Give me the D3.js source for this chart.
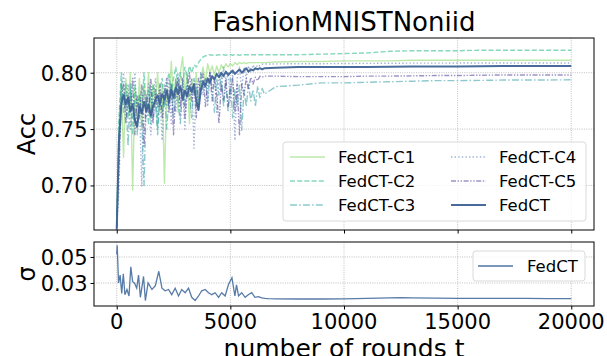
<!DOCTYPE html>
<html>
<head>
<meta charset="utf-8">
<script src="https://cdn.jsdelivr.net/npm/d3@7"></script>
<style>
body { margin: 0; background: #fff; }
text { font-family: "DejaVu Sans", sans-serif; fill: #000; }
</style>
</head>
<body>
<script>
// x positions (rounds) shared by the accuracy curves
let rounds = [0,100,200,300,400,500,600,700,800,900,1000,1100,1200,1300,1400,1500,1600,1700,1800,1900,
  2000,2100,2200,2300,2400,2500,2600,2700,2800,2900,3000,3100,3200,3300,3400,3500,3600,3700,3800,3900,
  4000,4100,4200,4300,4400,4500,4600,4700,4800,4900,5000,5100,5200,5300,5400,5500,5600,5700,5800,5900,
  6000,6100,6200,6300,6400,6500,7000,8000,9000,10000,11000,12000,13000,14000,15000,16000,17000,18000,19000,20000]

let c1 = [0.67,0.74,0.79,0.725,0.795,0.77,0.80,0.696,0.785,0.76,0.795,0.75,0.79,0.765,0.80,0.76,0.79,0.77,0.80,0.765,
  0.79,0.702,0.785,0.77,0.81,0.775,0.795,0.765,0.80,0.814,0.78,0.80,0.755,0.795,0.78,0.80,0.77,0.795,0.805,0.79,
  0.808,0.80,0.806,0.798,0.806,0.80,0.807,0.803,0.808,0.805,0.808,0.806,0.809,0.807,0.809,0.808,0.809,0.808,0.809,0.809,
  0.809,0.809,0.809,0.809,0.809,0.809,0.8095,0.810,0.810,0.8105,0.8105,0.8105,0.811,0.811,0.811,0.811,0.811,0.811,0.811,0.811]

let c2 = [0.665,0.76,0.80,0.77,0.79,0.76,0.785,0.745,0.79,0.77,0.78,0.765,0.80,0.77,0.785,0.755,0.79,0.78,0.75,0.785,
  0.795,0.77,0.79,0.80,0.78,0.795,0.805,0.785,0.80,0.79,0.805,0.795,0.806,0.80,0.807,0.805,0.809,0.812,0.814,0.815,
  0.815,0.816,0.8155,0.816,0.8155,0.816,0.8155,0.816,0.8155,0.816,0.816,0.8155,0.816,0.816,0.8155,0.816,0.816,0.816,0.816,0.816,
  0.816,0.816,0.816,0.816,0.816,0.816,0.816,0.816,0.8165,0.817,0.8175,0.819,0.8195,0.8195,0.8195,0.820,0.820,0.820,0.820,0.820]

let c3 = [0.662,0.75,0.79,0.765,0.78,0.735,0.79,0.76,0.775,0.745,0.78,0.76,0.70,0.775,0.755,0.785,0.76,0.775,0.745,0.78,
  0.765,0.785,0.75,0.78,0.79,0.76,0.795,0.775,0.755,0.79,0.77,0.795,0.78,0.76,0.795,0.785,0.77,0.80,0.785,0.795,
  0.775,0.80,0.785,0.765,0.795,0.78,0.80,0.77,0.79,0.765,0.795,0.76,0.785,0.77,0.79,0.749,0.785,0.77,0.79,0.775,
  0.785,0.77,0.788,0.778,0.786,0.781,0.7876,0.789,0.791,0.791,0.7915,0.792,0.7925,0.793,0.793,0.7932,0.7935,0.7935,0.7935,0.7938]

let c4 = [0.664,0.696,0.785,0.80,0.765,0.79,0.75,0.78,0.80,0.755,0.775,0.699,0.785,0.76,0.79,0.745,0.775,0.795,0.76,0.78,
  0.74,0.79,0.77,0.795,0.755,0.785,0.765,0.80,0.76,0.785,0.75,0.79,0.775,0.795,0.733,0.79,0.775,0.80,0.78,0.795,
  0.77,0.80,0.785,0.795,0.765,0.80,0.785,0.805,0.79,0.80,0.775,0.80,0.74,0.795,0.805,0.785,0.805,0.795,0.806,0.80,
  0.807,0.803,0.807,0.806,0.8075,0.8077,0.8078,0.808,0.808,0.8082,0.8083,0.8084,0.8085,0.8085,0.8086,0.8086,0.8086,0.8086,0.8086,0.8086]

let c5 = [0.663,0.72,0.775,0.79,0.755,0.78,0.765,0.795,0.745,0.78,0.76,0.79,0.735,0.78,0.765,0.795,0.755,0.785,0.77,0.79,
  0.76,0.78,0.795,0.765,0.79,0.745,0.785,0.795,0.77,0.795,0.76,0.785,0.80,0.775,0.79,0.76,0.795,0.78,0.80,0.77,
  0.79,0.80,0.775,0.795,0.78,0.755,0.79,0.775,0.795,0.77,0.785,0.795,0.765,0.79,0.745,0.79,0.78,0.795,0.785,0.796,
  0.79,0.796,0.793,0.797,0.796,0.797,0.797,0.7965,0.7965,0.7965,0.797,0.797,0.7972,0.7975,0.7975,0.7978,0.798,0.798,0.798,0.798]

let fedct = [0.661,0.740,0.772,0.780,0.772,0.778,0.766,0.772,0.758,0.752,0.770,0.764,0.774,0.766,0.772,0.762,0.770,0.776,0.780,0.772,
  0.781,0.776,0.784,0.774,0.785,0.778,0.787,0.781,0.788,0.776,0.784,0.779,0.788,0.783,0.790,0.775,0.767,0.785,0.792,0.788,
  0.795,0.791,0.797,0.794,0.799,0.796,0.800,0.797,0.801,0.798,0.800,0.802,0.799,0.801,0.803,0.800,0.802,0.804,0.801,0.803,
  0.802,0.804,0.803,0.804,0.803,0.804,0.8045,0.805,0.805,0.805,0.805,0.8052,0.8055,0.8055,0.8055,0.8057,0.806,0.806,0.806,0.806]

// sigma curve has its own sampling
let sigRounds = [0,20,80,150,220,290,360,450,540,620,700,780,880,960,1040,1180,1260,1380,1550,1700,1850,1990,2130,
  2280,2420,2570,2720,2860,3010,3160,3300,3450,3600,3740,3890,4040,4180,4330,4480,4620,4770,4920,5070,5200,5270,
  5360,5500,5650,5790,5940,6080,6230,6380,6520,6670,7000,8000,9000,10000,11000,12000,12500,13000,14000,15000,16000,17000,18000,19000,20000]
let sigma = [0.052,0.059,0.030,0.036,0.022,0.037,0.021,0.025,0.020,0.0425,0.031,0.030,0.026,0.036,0.019,0.035,0.0165,0.030,
  0.025,0.028,0.039,0.026,0.024,0.025,0.021,0.026,0.020,0.025,0.0225,0.026,0.019,0.0165,0.020,0.024,0.025,0.0225,
  0.021,0.0225,0.019,0.0225,0.020,0.029,0.034,0.020,0.0285,0.020,0.0225,0.019,0.021,0.0225,0.019,0.0195,0.0185,
  0.0182,0.018,0.0178,0.0177,0.0177,0.0178,0.0182,0.0186,0.0188,0.0186,0.0184,0.0182,0.0182,0.0181,0.0181,0.018,0.018]

let xTicks = [0,5000,10000,15000,20000]
let accTicks = [0.70,0.75,0.80]
let sigTicks = [0.03,0.05]

let series = [
  {name:"FedCT-C1", values:c1, color:"#7bd35a", dash:null, width:1.4, op:0.5},
  {name:"FedCT-C2", values:c2, color:"#22b884", dash:"5,2.2", width:1.4, op:0.55},
  {name:"FedCT-C3", values:c3, color:"#2f9ca3", dash:"7,2.2,1.5,2.2", width:1.4, op:0.55},
  {name:"FedCT-C4", values:c4, color:"#4f73b5", dash:"1.4,2.2", width:1.4, op:0.55},
  {name:"FedCT-C5", values:c5, color:"#4a3a93", dash:"5,1.6,1.4,1.6,1.4,1.6", width:1.4, op:0.55},
  {name:"FedCT", values:fedct, color:"#3e6396", dash:null, width:2, op:0.95},
]

let W = 607, H = 356
let left = 94, right = 594
let top1 = 38, bot1 = 230, top2 = 242, bot2 = 306

let svg = d3.select("body").append("svg").attr("width", W).attr("height", H)

let x = d3.scaleLinear().domain([-1000, 21000]).range([left, right])
let y1 = d3.scaleLinear().domain([0.6605, 0.8308]).range([bot1, top1])
let y2 = d3.scaleLinear().domain([0.0123, 0.0615]).range([bot2, top2])

function panel(y, yt, yfmt, t, b, id){
  let g = svg.append("g")
  g.append("clipPath").attr("id", id).append("rect")
    .attr("x", left).attr("y", t).attr("width", right-left).attr("height", b-t)
  // grid
  g.selectAll(".gx").data(xTicks).join("line")
    .attr("x1", d=>x(d)).attr("x2", d=>x(d)).attr("y1", t).attr("y2", b)
    .attr("stroke", "#b0b0b0").attr("stroke-width", 0.8).attr("stroke-dasharray", "1,1.3")
  g.selectAll(".gy").data(yt).join("line")
    .attr("x1", left).attr("x2", right).attr("y1", d=>y(d)).attr("y2", d=>y(d))
    .attr("stroke", "#b0b0b0").attr("stroke-width", 0.8).attr("stroke-dasharray", "1,1.3")
  let xa = g.append("g").attr("transform", `translate(0,${b})`)
    .call(d3.axisBottom(x).tickValues(xTicks).tickSize(3.5).tickFormat(""))
  xa.select(".domain").remove()
  let ya = g.append("g").attr("transform", `translate(${left},0)`)
    .call(d3.axisLeft(y).tickValues(yt).tickSize(3.5).tickPadding(3).tickFormat(yfmt))
  ya.select(".domain").remove()
  ya.selectAll("text").style("font-size", "21px").attr("dy", "0.35em")
  return g
}

let g1 = panel(y1, accTicks, d3.format(".2f"), top1, bot1, "clip1")
let g2 = panel(y2, sigTicks, d3.format(".2f"), top2, bot2, "clip2")

let line1 = d3.line().x((d,i)=>x(rounds[i])).y(d=>y1(d))
let plot1 = g1.append("g").attr("clip-path", "url(#clip1)")
series.forEach(s=>{
  plot1.append("path").datum(s.values)
    .attr("d", line1).attr("fill", "none")
    .attr("stroke", s.color).attr("stroke-width", s.width)
    .attr("stroke-opacity", s.op)
    .attr("stroke-dasharray", s.dash)
    .attr("stroke-linejoin", "round")
})

let line2 = d3.line().x((d,i)=>x(sigRounds[i])).y(d=>y2(d))
g2.append("g").attr("clip-path", "url(#clip2)")
  .append("path").datum(sigma)
  .attr("d", line2).attr("fill", "none")
  .attr("stroke", "#4e74a3").attr("stroke-width", 1.3).attr("stroke-opacity", 0.95)

// frames
svg.append("rect").attr("x", left).attr("y", top1).attr("width", right-left).attr("height", bot1-top1)
  .attr("fill", "none").attr("stroke", "#000").attr("stroke-width", 1)
svg.append("rect").attr("x", left).attr("y", top2).attr("width", right-left).attr("height", bot2-top2)
  .attr("fill", "none").attr("stroke", "#000").attr("stroke-width", 1)

// x tick labels on the lower panel
svg.append("g").selectAll("text").data(xTicks).join("text")
  .attr("x", d=>x(d)).attr("y", 329).attr("text-anchor", "middle")
  .style("font-size", "21px").text(d=>d)

svg.append("text").attr("x", (left+right)/2).attr("y", 31).attr("text-anchor", "middle")
  .style("font-size", "26px").text("FashionMNISTNoniid")
svg.append("text").attr("x", (left+right)/2).attr("y", 357).attr("text-anchor", "middle")
  .style("font-size", "25px").text("number of rounds t")
svg.append("text").attr("transform", `translate(35,${(top1+bot1)/2}) rotate(-90)`)
  .attr("text-anchor", "middle").style("font-size", "24px").text("Acc")
svg.append("text").attr("transform", `translate(35,${(top2+bot2)/2}) rotate(-90)`)
  .attr("text-anchor", "middle").style("font-size", "24px").text("σ")

// legend, upper panel
let lg = svg.append("g")
lg.append("rect").attr("x", 283).attr("y", 142).attr("width", 303).attr("height", 79).attr("rx", 3)
  .attr("fill", "#fff").attr("fill-opacity", 0.8).attr("stroke", "#d9d9d9")
series.forEach((s,i)=>{
  let col = Math.floor(i/3), row = i%3
  let lx = 290 + col*161, ly = 157 + row*24
  lg.append("line").attr("x1", lx).attr("x2", lx+35).attr("y1", ly).attr("y2", ly)
    .attr("stroke", s.color).attr("stroke-width", s.width).attr("stroke-opacity", s.op)
    .attr("stroke-dasharray", s.dash)
  lg.append("text").attr("x", lx+48).attr("y", ly).attr("dy", "0.35em")
    .style("font-size", "16.5px").text(s.name)
})

// legend, lower panel
let lg2 = svg.append("g")
lg2.append("rect").attr("x", 473).attr("y", 251).attr("width", 112).attr("height", 30).attr("rx", 3)
  .attr("fill", "#fff").attr("fill-opacity", 0.8).attr("stroke", "#d9d9d9")
lg2.append("line").attr("x1", 478).attr("x2", 513).attr("y1", 266).attr("y2", 266)
  .attr("stroke", "#4e74a3").attr("stroke-width", 1.3)
lg2.append("text").attr("x", 527).attr("y", 266).attr("dy", "0.35em")
  .style("font-size", "16.5px").text("FedCT")
</script>
</body>
</html>
